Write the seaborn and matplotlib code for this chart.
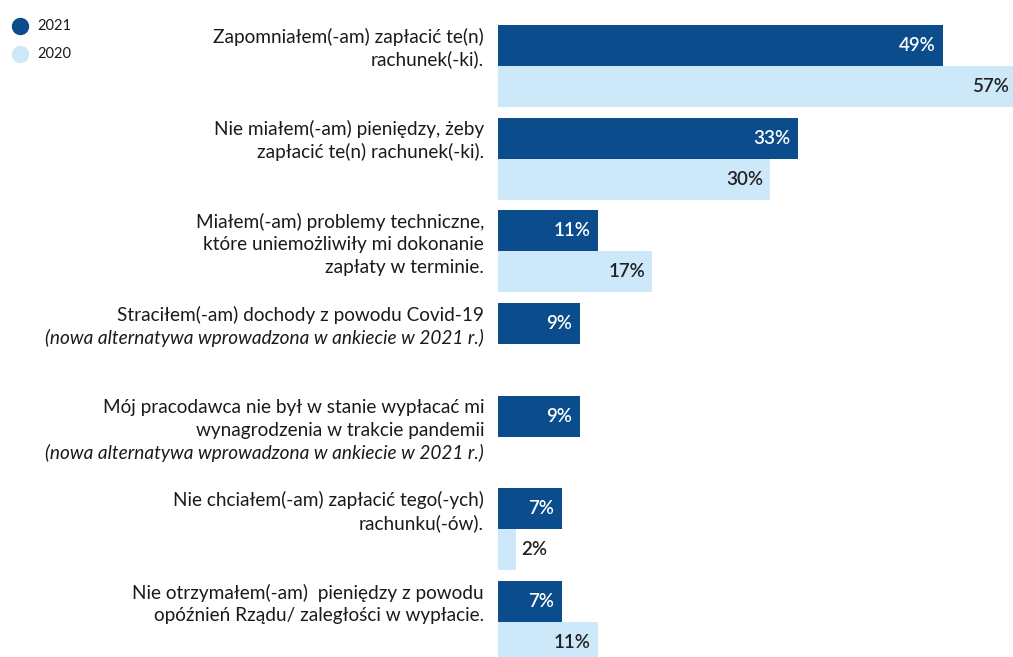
import matplotlib
matplotlib.use("Agg")
import matplotlib.pyplot as plt
from matplotlib.lines import Line2D
import matplotlib.transforms as mtransforms
import seaborn as sns
import pandas as pd

sns.set_style("white")
plt.rcParams['font.family'] = ['Lato', 'DejaVu Sans']

categories = ["c1", "c2", "c3", "c4", "c5", "c6", "c7"]
label_lines = [
    [("Zapomniałem(-am) zapłacić te(n)", False), ("rachunek(-ki).", False)],
    [("Nie miałem(-am) pieniędzy, żeby", False), ("zapłacić te(n) rachunek(-ki).", False)],
    [("Miałem(-am) problemy techniczne,", False), ("które uniemożliwiły mi dokonanie", False), ("zapłaty w terminie.", False)],
    [("Straciłem(-am) dochody z powodu Covid-19", False), ("(nowa alternatywa wprowadzona w ankiecie w 2021 r.)", True)],
    [("Mój pracodawca nie był w stanie wypłacać mi", False), ("wynagrodzenia w trakcie pandemii", False), ("(nowa alternatywa wprowadzona w ankiecie w 2021 r.)", True)],
    [("Nie chciałem(-am) zapłacić tego(-ych)", False), ("rachunku(-ów).", False)],
    [("Nie otrzymałem(-am)  pieniędzy z powodu", False), ("opóźnień Rządu/ zaległości w wypłacie.", False)],
]
values_2021 = [49, 33, 11, 9, 9, 7, 7]
values_2020 = [57, 30, 17, None, None, 2, 11]
years = ["2021", "2020"]
colors = {"2021": "#0b4c8c", "2020": "#cde8f9"}

rows = []
for c, v in zip(categories, values_2021):
    rows.append({"cat": c, "year": "2021", "val": v})
for c, v in zip(categories, values_2020):
    if v is not None:
        rows.append({"cat": c, "year": "2020", "val": v})
df = pd.DataFrame(rows)

W, H = 1013, 657
fig = plt.figure(figsize=(W / 100, H / 100), dpi=100)
ax = fig.add_axes([498 / W, 0, 515 / W, 1])

width = 0.885
sns.barplot(data=df, y="cat", x="val", hue="year", order=categories, hue_order=years,
            palette=colors, orient="h", width=width, saturation=1, legend=False,
            errorbar=None, ax=ax, linewidth=0)

ax.set_xlim(0, 56.7)
ax.set_ylim(6 + 35 / 92.67, -66 / 92.67)
ax.axis("off")

# value labels
for bar in ax.patches:
    w = bar.get_width()
    if not w or w != w:
        continue
    yc = bar.get_y() + bar.get_height() / 2
    fc = bar.get_facecolor()
    dark = fc[0] < 0.5
    txt = f"{int(round(w))}%"
    if w < 4:
        ax.text(w + 0.6, yc, txt, ha="left", va="center", fontsize=13.5,
                color="#222222", fontweight="semibold")
    else:
        ax.text(w - 0.8, yc, txt, ha="right", va="center", fontsize=13.5,
                color="white" if dark else "#222222", fontweight="semibold")

# category labels
trans = mtransforms.blended_transform_factory(ax.transAxes, ax.transData)
px = 1 / 92.67
x_lab = (484 - 498) / 515
for i, lines in enumerate(label_lines):
    y0 = i - width / 4 - 9 * px
    for j, (t, it) in enumerate(lines):
        ax.text(x_lab, y0 + j * 23 * px, t, transform=trans, ha="right", va="center",
                fontsize=13.7, color="#1a1a1a", style="italic" if it else "normal",
                clip_on=False)

# legend
for k, (yr, yy) in enumerate([("2021", 26), ("2020", 54)]):
    fig.add_artist(Line2D([20 / W], [1 - yy / H], marker="o", markersize=11.5,
                          color=colors[yr], linestyle="", transform=fig.transFigure))
    fig.text(37 / W, 1 - yy / H, yr, ha="left", va="center", fontsize=10.5, color="#1a1a1a")

fig.savefig("out.png", dpi=100)
